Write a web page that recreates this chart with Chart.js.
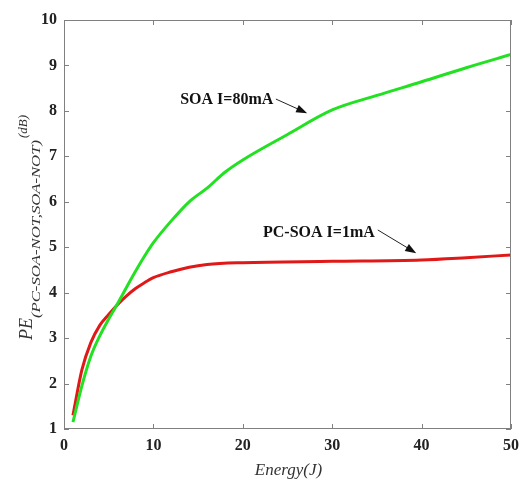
<!DOCTYPE html>
<html>
<head>
<meta charset="utf-8">
<script src="https://cdn.jsdelivr.net/npm/chart.js"></script>
<style>
  html, body { margin: 0; padding: 0; background: #fff; }
  #wrap { width: 519px; height: 480px; }
</style>
</head>
<body>
<div id="wrap"><canvas id="c" width="519" height="480"></canvas></div>
<script>
// series
const soaEnergy = [1, 2, 3, 4, 5, 6, 7, 8, 9, 10, 12, 14, 16, 18, 20, 25, 30, 35, 40, 45, 50];
const soaPE     = [1.15, 1.95, 2.6, 3.05, 3.42, 3.76, 4.12, 4.47, 4.8, 5.1, 5.58, 6.0, 6.3, 6.65, 6.92, 7.48, 8.02, 8.34, 8.64, 8.95, 9.24];
const pcEnergy  = [1, 2, 3, 4, 5, 6, 7, 8, 9, 10, 12, 14, 16, 20, 30, 40, 45, 50];
const pcPE      = [1.3, 2.3, 2.9, 3.28, 3.52, 3.74, 3.93, 4.09, 4.22, 4.33, 4.46, 4.56, 4.62, 4.66, 4.69, 4.72, 4.77, 4.83];
const xTicks = [0, 10, 20, 30, 40, 50];
const yTicks = [1, 2, 3, 4, 5, 6, 7, 8, 9, 10];

// labels with arrows: text anchor, arrow start, arrow tip (data units)
const notes = [
  { text: 'SOA I=80mA',   at: [13.0, 8.15],  from: [23.7, 8.26], to: [27.2, 7.95] },
  { text: 'PC-SOA I=1mA', at: [22.26, 5.23], from: [35.1, 5.38], to: [39.4, 4.87] }
];

const SERIF = '"Liberation Serif", "DejaVu Serif", serif';

function pts(xs, ys) {
  return xs.map((x, i) => ({ x: x, y: ys[i] }));
}

const frame = {
  id: 'frame',
  afterDraw(chart) {
    const ctx = chart.ctx;
    const a = chart.chartArea;
    const xs = chart.scales.x, ys = chart.scales.y;
    ctx.save();
    ctx.strokeStyle = '#808080';
    ctx.lineWidth = 1;
    ctx.strokeRect(a.left + 0.5, a.top + 0.5, a.right - a.left - 1, a.bottom - a.top - 1);
    // inward ticks
    ctx.beginPath();
    xTicks.forEach(v => {
      const px = Math.round(xs.getPixelForValue(v)) + 0.5;
      ctx.moveTo(px, a.bottom); ctx.lineTo(px, a.bottom - 5);
      ctx.moveTo(px, a.top); ctx.lineTo(px, a.top + 5);
    });
    yTicks.forEach(v => {
      const py = Math.round(ys.getPixelForValue(v)) + 0.5;
      ctx.moveTo(a.left, py); ctx.lineTo(a.left + 5, py);
      ctx.moveTo(a.right, py); ctx.lineTo(a.right - 5, py);
    });
    ctx.stroke();

    // annotations
    ctx.fillStyle = '#111';
    ctx.strokeStyle = '#222';
    ctx.font = 'bold 16px ' + SERIF;
    ctx.textBaseline = 'alphabetic';
    notes.forEach(n => {
      ctx.fillText(n.text, xs.getPixelForValue(n.at[0]), ys.getPixelForValue(n.at[1]));
      const x0 = xs.getPixelForValue(n.from[0]), y0 = ys.getPixelForValue(n.from[1]);
      const x1 = xs.getPixelForValue(n.to[0]), y1 = ys.getPixelForValue(n.to[1]);
      const ang = Math.atan2(y1 - y0, x1 - x0);
      ctx.lineWidth = 1;
      ctx.beginPath();
      ctx.moveTo(x0, y0);
      ctx.lineTo(x1 - 8 * Math.cos(ang), y1 - 8 * Math.sin(ang));
      ctx.stroke();
      ctx.beginPath();
      ctx.moveTo(x1, y1);
      ctx.lineTo(x1 - 11 * Math.cos(ang) + 4 * Math.sin(ang), y1 - 11 * Math.sin(ang) - 4 * Math.cos(ang));
      ctx.lineTo(x1 - 11 * Math.cos(ang) - 4 * Math.sin(ang), y1 - 11 * Math.sin(ang) + 4 * Math.cos(ang));
      ctx.closePath();
      ctx.fill();
    });

    // x title
    ctx.fillStyle = '#333';
    ctx.font = 'italic 17px ' + SERIF;
    ctx.textAlign = 'center';
    ctx.fillText('Energy(J)', (a.left + a.right) / 2 + 1, 475);

    // y title, rotated
    ctx.rotate(-Math.PI / 2);
    ctx.textAlign = 'left';
    ctx.font = 'italic 18px ' + SERIF;
    ctx.fillText('PE', -340, 32);
    let w = ctx.measureText('PE').width;
    ctx.font = 'italic 13px ' + SERIF;
    const sub = '(PC-SOA-NOT,SOA-NOT)';
    const sw = ctx.measureText(sub).width;
    ctx.save();
    ctx.translate(-340 + w, 40);
    ctx.scale(178 / sw, 1);
    ctx.fillText(sub, 0, 0);
    ctx.restore();
    ctx.font = 'italic 13px ' + SERIF;
    ctx.fillText('(dB)', -340 + w + 180, 27);
    ctx.restore();
  }
};

new Chart(document.getElementById('c'), {
  type: 'line',
  data: {
    datasets: [
      {
        label: 'SOA I=80mA',
        data: pts(soaEnergy, soaPE),
        borderColor: '#22e022',
        borderWidth: 3,
        pointRadius: 0,
        cubicInterpolationMode: 'monotone',
        fill: false
      },
      {
        label: 'PC-SOA I=1mA',
        data: pts(pcEnergy, pcPE),
        borderColor: '#e01818',
        borderWidth: 3,
        pointRadius: 0,
        cubicInterpolationMode: 'monotone',
        fill: false
      }
    ]
  },
  options: {
    responsive: false,
    animation: false,
    devicePixelRatio: 1,
    layout: { padding: { left: 0, right: 0, top: 20, bottom: 0 } },
    plugins: { legend: { display: false }, tooltip: { enabled: false } },
    scales: {
      x: {
        type: 'linear',
        min: 0, max: 50,
        afterBuildTicks: s => { s.ticks = xTicks.map(v => ({ value: v })); },
        afterFit: s => { s.height = 51; s.paddingRight = 8; s.paddingLeft = 0; },
        grid: { display: false, drawTicks: false },
        border: { display: false },
        ticks: { color: '#222', padding: 7, maxRotation: 0, font: { family: SERIF, size: 16, weight: 'bold' } }
      },
      y: {
        type: 'linear',
        min: 1, max: 10,
        afterBuildTicks: s => { s.ticks = yTicks.map(v => ({ value: v })); },
        afterFit: s => { s.width = 64; s.paddingTop = 0; s.paddingBottom = 0; },
        grid: { display: false, drawTicks: false },
        border: { display: false },
        ticks: { color: '#222', padding: 7, font: { family: SERIF, size: 16, weight: 'bold' } }
      }
    }
  },
  plugins: [frame]
});
</script>
</body>
</html>
